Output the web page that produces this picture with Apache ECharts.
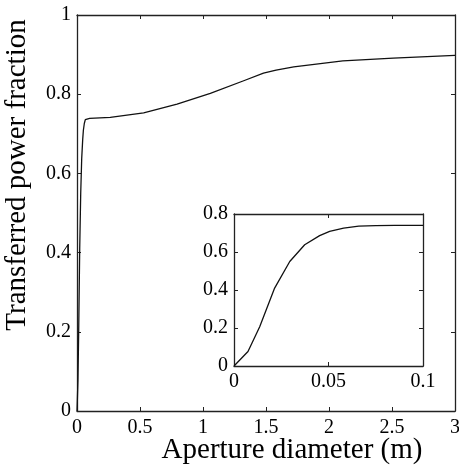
<!DOCTYPE html>
<html>
<head>
<meta charset="utf-8">
<script src="https://cdn.jsdelivr.net/npm/echarts@6/dist/echarts.min.js"></script>
<style>html,body{margin:0;padding:0;background:#fff}#c{width:459px;height:468px}</style>
</head>
<body>
<div id="c"></div>
<script>
// Main curve: aperture diameter (m) vs transferred power fraction
var mainX = [0, 0.0074, 0.0136, 0.0215, 0.0295, 0.0374, 0.0453, 0.0506, 0.058, 0.066, 0.079, 0.1, 0.264, 0.529, 0.794, 1.058, 1.323, 1.48, 1.58, 1.72, 2.11, 2.51, 3.0];
var mainY = [0, 0.076, 0.207, 0.41, 0.55, 0.638, 0.686, 0.709, 0.726, 0.736, 0.738, 0.739, 0.7416, 0.753, 0.775, 0.802, 0.834, 0.853, 0.861, 0.869, 0.884, 0.891, 0.898];
// Inset: zoom on 0..0.1 m
var insetX = [0, 0.0074, 0.0136, 0.0215, 0.0295, 0.0374, 0.0453, 0.0506, 0.058, 0.066, 0.075, 0.085, 0.1];
var insetY = [0, 0.076, 0.207, 0.41, 0.55, 0.638, 0.686, 0.709, 0.726, 0.736, 0.739, 0.740, 0.740];
var mainXTicks = [0, 0.5, 1, 1.5, 2, 2.5, 3];
var mainYTicks = [0, 0.2, 0.4, 0.6, 0.8, 1];
var insetXTicks = [0, 0.05, 0.1];
var insetYTicks = [0, 0.2, 0.4, 0.6, 0.8];

function pairs(xs, ys) { return xs.map(function (x, i) { return [x, ys[i]]; }); }
var font = 'Liberation Serif';
var lineC = '#222';
function axisBase(extra) {
  var a = {
    axisLine: { show: true, onZero: false, lineStyle: { color: lineC, width: 1.3 } },
    axisTick: { show: true, inside: true, length: 4, lineStyle: { color: lineC } },
    splitLine: { show: false },
    axisLabel: { fontFamily: font, color: '#000' }
  };
  for (var k in extra) a[k] = extra[k];
  return a;
}
var chart = echarts.init(document.getElementById('c'), null, { renderer: 'canvas' });
chart.setOption({
  animation: false,
  backgroundColor: '#fff',
  grid: [
    { left: 77, top: 15, width: 378, height: 396, outerBoundsMode: 'none', containLabel: false },
    { left: 234, top: 214, width: 189, height: 152, show: true, backgroundColor: '#fff', borderWidth: 0, outerBoundsMode: 'none', containLabel: false }
  ],
  xAxis: [
    axisBase({ gridIndex: 0, type: 'value', min: mainXTicks[0], max: mainXTicks[mainXTicks.length - 1], interval: 0.5,
      axisLabel: { fontFamily: font, color: '#000', fontSize: 20, margin: 7 },
      name: 'Aperture diameter (m)', nameLocation: 'middle', nameGap: 25, nameMoveOverlap: false,
      nameTextStyle: { fontFamily: font, fontSize: 29, color: '#000', verticalAlign: 'top', padding: [0, 0, 0, 52] } }),
    axisBase({ gridIndex: 0, type: 'value', position: 'top', min: 0, max: 3, interval: 0.5, axisLabel: { show: false } }),
    axisBase({ gridIndex: 1, type: 'value', min: insetXTicks[0], max: insetXTicks[insetXTicks.length - 1], interval: 0.05,
      axisLabel: { fontFamily: font, color: '#000', fontSize: 20, margin: 6 } }),
    axisBase({ gridIndex: 1, type: 'value', position: 'top', min: 0, max: 0.1, interval: 0.05, axisLabel: { show: false } })
  ],
  yAxis: [
    axisBase({ gridIndex: 0, type: 'value', min: mainYTicks[0], max: mainYTicks[mainYTicks.length - 1], interval: 0.2,
      axisLabel: { fontFamily: font, color: '#000', fontSize: 20, margin: 6 },
      name: 'Transferred power fraction', nameLocation: 'middle', nameGap: 45, nameMoveOverlap: false,
      nameTextStyle: { fontFamily: font, fontSize: 29, color: '#000', padding: [0, 0, 0, 76] } }),
    axisBase({ gridIndex: 0, type: 'value', position: 'right', min: 0, max: 1, interval: 0.2, axisLabel: { show: false } }),
    axisBase({ gridIndex: 1, type: 'value', min: insetYTicks[0], max: insetYTicks[insetYTicks.length - 1], interval: 0.2,
      axisLabel: { fontFamily: font, color: '#000', fontSize: 20, margin: 6 } }),
    axisBase({ gridIndex: 1, type: 'value', position: 'right', min: 0, max: 0.8, interval: 0.2, axisLabel: { show: false } })
  ],
  series: [
    { type: 'line', xAxisIndex: 0, yAxisIndex: 0, data: pairs(mainX, mainY), showSymbol: false,
      lineStyle: { color: '#111', width: 1.3 } },
    { type: 'line', xAxisIndex: 2, yAxisIndex: 2, data: pairs(insetX, insetY), showSymbol: false,
      lineStyle: { color: '#111', width: 1.3 } }
  ]
});
</script>
</body>
</html>
